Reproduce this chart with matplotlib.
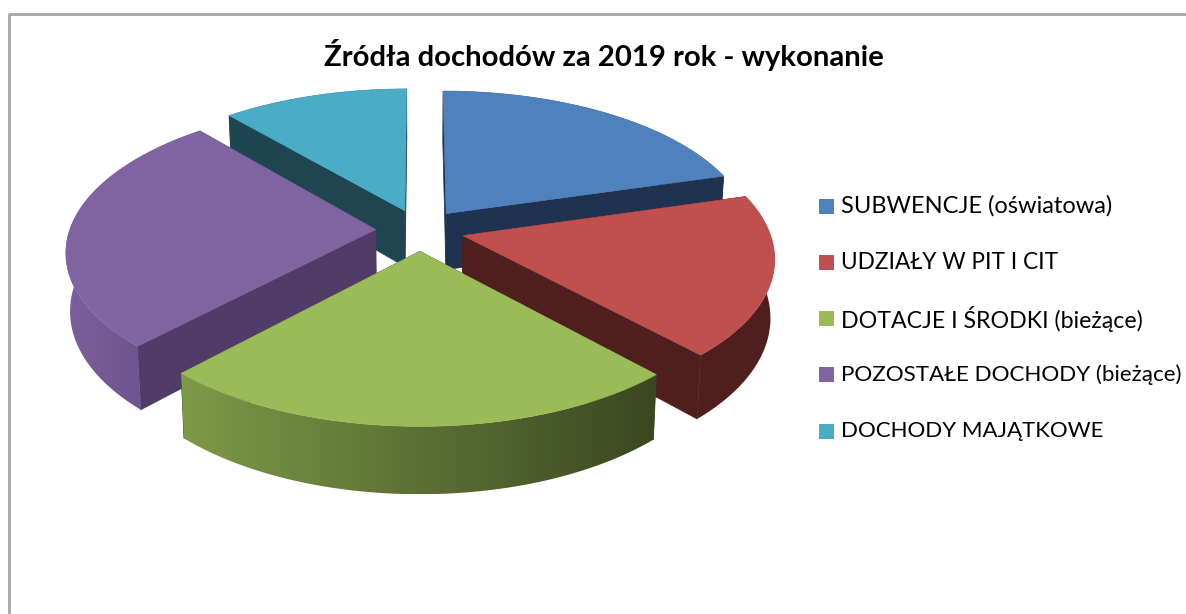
import numpy as np
import matplotlib
matplotlib.use('Agg')
import matplotlib.pyplot as plt
from matplotlib.colors import LinearSegmentedColormap
from matplotlib.patches import Polygon, Rectangle

# Dane (udzial w %)
labels = ['SUBWENCJE (oświatowa)', 'UDZIAŁY W PIT I CIT', 'DOTACJE I ŚRODKI (bieżące)',
          'POZOSTAŁE DOCHODY (bieżące)', 'DOCHODY MAJĄTKOWE']
values = [20.5, 17.65, 23.85, 26.7, 11.3]
top_colors = ['#4f81bd', '#c0504d', '#9bbb59', '#8064a2', '#4bacc6']
wall_colors = ['#1f324f', '#4f1f1e', '#3d4b24', '#513c68', '#1e4550']
arc_left = ['#1f324f', '#4f1f1e', '#7d9a48', '#7a5f9c', '#1e4550']
arc_right = ['#1f324f', '#4f1f1e', '#3a4720', '#664d85', '#1e4550']
label_sizes = [17.05, 16.3, 16.7, 16.1, 16.0]
title = 'Źródła dochodów za 2019 rok - wykonanie'

plt.rcParams['font.family'] = ['Lato', 'DejaVu Sans']

# geometria rzutu
cx, cy = 420.0, 230.0
Rx, Ry = 306.0, 144.0
persp = 0.14
depth = 57.0
explode = 0.145


def proj(u, v, z=0.0):
    f = 1.0 / (1.0 + persp * v)
    x = cx + Rx * u * f * (1.0 - 0.012 * z)
    y = cy - Ry * v * f + depth * f * z
    return x, y


fig = plt.figure(figsize=(11.86, 6.14), dpi=100)
ax = fig.add_axes([0, 0, 1, 1])

# ramka wykresu
ax.plot([8.5, 8.5, 1186], [614, 14, 14], color='#a6a6a6', lw=2, solid_capstyle='butt', zorder=1)

edges = np.radians(np.concatenate([[0], np.cumsum(values)]) / np.sum(values) * 360)

# kolejnosc rysowania: od tylu do przodu
zo = 2
for i in [4, 0, 3, 1, 2]:
    a0, a1 = edges[i], edges[i + 1]
    mid = (a0 + a1) / 2
    ou, ov = explode * np.sin(mid), explode * np.cos(mid)
    th = np.linspace(a0, a1, 120)
    u = ou + np.sin(th)
    v = ov + np.cos(th)

    # sciany przekroju
    for a in (a0, a1):
        eu, ev = ou + np.sin(a), ov + np.cos(a)
        pts = [proj(ou, ov), proj(eu, ev), proj(eu, ev, 1), proj(ou, ov, 1)]
        ax.add_patch(Polygon(pts, closed=True, fc=wall_colors[i], ec=wall_colors[i], lw=0.5, zorder=zo))
        zo += 1

    # sciana zewnetrzna z gradientem
    xs, ys = proj(u, v)
    xb, yb = proj(u, v, 1)
    wall = np.column_stack([np.concatenate([xs, xb[::-1]]), np.concatenate([ys, yb[::-1]])])
    clip = Polygon(wall, closed=True, transform=ax.transData)
    cmap = LinearSegmentedColormap.from_list('arc', [arc_left[i], arc_right[i]])
    im = ax.imshow(np.linspace(0, 1, 256)[None, :], cmap=cmap, aspect='auto', zorder=zo,
                   extent=[wall[:, 0].min(), wall[:, 0].max(), wall[:, 1].max(), wall[:, 1].min()])
    im.set_clip_path(clip)
    zo += 1

    # gorna powierzchnia
    top_pts = [proj(ou, ov)] + list(zip(xs, ys))
    ax.add_patch(Polygon(top_pts, closed=True, fc=top_colors[i], ec=top_colors[i], lw=0.4, zorder=zo))
    zo += 1

ax.text(604, 55, title, ha='center', va='center', fontsize=21.1, fontweight='bold', color='black', zorder=zo)

# legenda
for i, name in enumerate(labels):
    y = 206 + i * 56.3
    ax.add_patch(Rectangle((819, y - 7.5), 15, 15, fc=top_colors[i], ec='none', zorder=zo))
    ax.text(841, y, name, ha='left', va='center', fontsize=label_sizes[i], color='black', zorder=zo)

ax.set_xlim(0, 1186)
ax.set_ylim(614, 0)
ax.axis('off')

fig.savefig('out.png', dpi=100)
